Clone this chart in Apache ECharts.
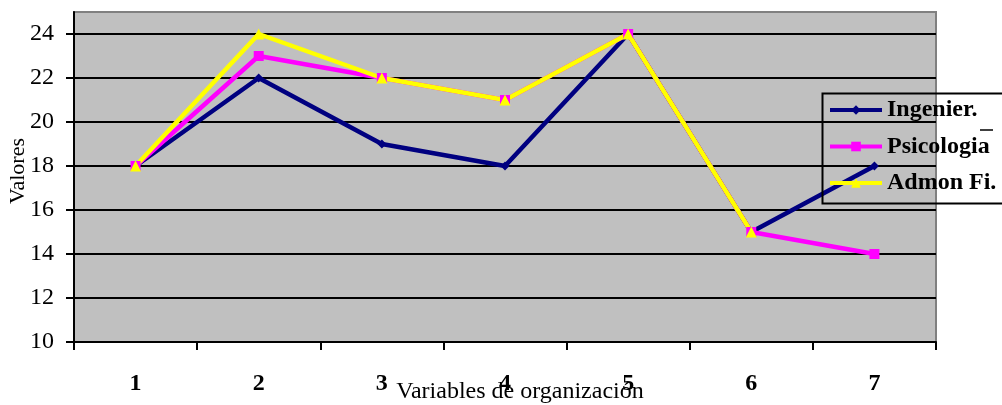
<!DOCTYPE html>
<html>
<head>
<meta charset="utf-8">
<script src="https://cdn.jsdelivr.net/npm/echarts@6/dist/echarts.min.js"></script>
<style>
html,body{margin:0;padding:0;background:#fff;}
#chart{width:1002px;height:405px;}
</style>
</head>
<body>
<div id="chart"></div>
<script>
var categories = ['1', '2', '3', '4', '5', '6', '7'];
var ingenier = [18, 22, 19, 18, 24, 15, 18];
var psicologia = [18, 23, 22, 21, 24, 15, 14];
var admon = [18, 24, 22, 21, 24, 15, null];
var seriesNames = ['Ingenier.', 'Psicologia', 'Admon Fi.'];
var yTitle = 'Valores';
var xTitle = 'Variables de organización';

var FONT = '"Liberation Serif", "Times New Roman", serif';
var chart = echarts.init(document.getElementById('chart'), null, {renderer: 'canvas'});

function lineSeries(name, data, color, symbol, size) {
  return {
    name: name, type: 'line', data: data,
    symbol: symbol, symbolSize: size, showSymbol: true,
    lineStyle: {color: color, width: 4.5},
    itemStyle: {color: color},
    emphasis: {disabled: true},
    animation: false
  };
}

chart.setOption({
  animation: false,
  grid: {
    left: 74, right: 66, top: 12, bottom: 63,
    show: true, backgroundColor: '#c0c0c0',
    borderColor: '#808080', borderWidth: 2
  },
  xAxis: {
    type: 'category', data: categories, boundaryGap: true,
    axisLine: {lineStyle: {color: '#000', width: 2}},
    axisTick: {show: true, length: 8, inside: false, alignWithLabel: false, lineStyle: {color: '#000', width: 2}},
    axisLabel: {fontFamily: FONT, fontSize: 24, fontWeight: 'bold', color: '#000', margin: 30},
    splitLine: {show: false}
  },
  yAxis: {
    type: 'value', min: 10, max: 25, interval: 2,
    axisLine: {show: true, lineStyle: {color: '#000', width: 2}},
    axisTick: {show: true, length: 8, lineStyle: {color: '#000', width: 2}},
    axisLabel: {fontFamily: FONT, fontSize: 24, color: '#000', margin: 20, showMaxLabel: false},
    splitLine: {show: true, lineStyle: {color: ['#000','#000','#000','#000','#000','#000','#000','#000','#808080'], width: 2}}
  },
  legend: {
    orient: 'vertical', left: 828, top: 98, padding: 0,
    itemWidth: 52, itemHeight: 12, itemGap: 12.5,
    lineStyle: {width: 4},
    textStyle: {fontFamily: FONT, fontSize: 24, fontWeight: 'bold', color: '#000', lineHeight: 24},
    data: seriesNames
  },
  graphic: [
    {type: 'rect', left: 820, top: 91, shape: {width: 181, height: 110}, style: {fill: null, stroke: '#000', lineWidth: 2}, z: 10},
    {type: 'line', shape: {x1: 980, y1: 130, x2: 993, y2: 130}, style: {stroke: '#000', lineWidth: 1.5}, z: 10},
    {type: 'text', x: 520, y: 392, style: {text: xTitle, font: '24px ' + FONT, fill: '#000', align: 'center', verticalAlign: 'middle'}, z: 5},
    {type: 'text', x: 18, y: 171, rotation: Math.PI / 2, style: {text: yTitle, font: '22px ' + FONT, fill: '#000', align: 'center', verticalAlign: 'middle'}, z: 5}
  ],
  series: [
    lineSeries(seriesNames[0], ingenier, '#000080', 'diamond', 9),
    lineSeries(seriesNames[1], psicologia, '#ff00ff', 'rect', 10),
    lineSeries(seriesNames[2], admon, '#ffff00', 'triangle', 11)
  ]
});
</script>
</body>
</html>
